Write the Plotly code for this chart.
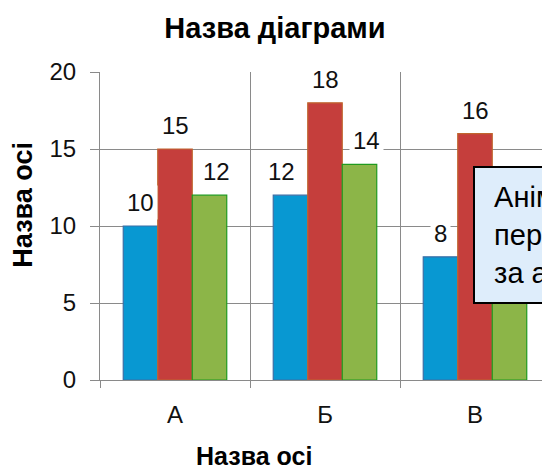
import plotly.graph_objects as go

categories = ["А", "Б", "В"]
series1 = [10, 12, 8]
series2 = [15, 18, 16]
series3 = [12, 14, 11]
y_ticks = [0, 5, 10, 15, 20]

FONT = "Liberation Sans, Arial, sans-serif"
fills = ["#0898d2", "#c53e3c", "#8cb548"]
edges = ["#3b6ea5", "#c0652e", "#1f9a1f"]
# horizontal pixel offsets of each data label from its category centre
label_dx = [[-34.5, -44, -34.5], [0, 0, 0], [41.5, 41.5, 41.5]]

fig = go.Figure()
for vals, fc, ec in zip([series1, series2, series3], fills, edges):
    fig.add_trace(go.Bar(x=categories, y=vals, marker=dict(color=fc, line=dict(color=ec, width=1.2)),
                         showlegend=False, hoverinfo="skip"))

annotations = []
for vals, dxs in zip([series1, series2, series3], label_dx):
    for c, v, dx in zip(categories, vals, dxs):
        annotations.append(dict(x=c, y=v, xref="x", yref="y", text=str(v), showarrow=False,
                                xshift=dx, yanchor="bottom", yshift=6, bgcolor="white", borderpad=3,
                                font=dict(family=FONT, size=24, color="#111111")))

# axis titles
annotations.append(dict(x=0.342, y=-0.2468, xref="paper", yref="paper", text="<b>Назва осі</b>",
                        showarrow=False, xanchor="center", yanchor="middle",
                        font=dict(family=FONT, size=25, color="black")))
annotations.append(dict(x=-0.172, y=0.568, xref="paper", yref="paper", text="<b>Назва осі</b>",
                        showarrow=False, xanchor="center", yanchor="middle", textangle=-90,
                        font=dict(family=FONT, size=27, color="black")))
# text box (drawn last, covers what lies under it)
annotations.append(dict(x=0.829, y=0.695, xref="paper", yref="paper",
                        text="&nbsp;&nbsp;Анімація<br>&nbsp;&nbsp;переходу<br>&nbsp;&nbsp;за абзацами",
                        showarrow=False, xanchor="left", yanchor="top", align="left",
                        width=240, height=128, borderpad=3, borderwidth=2,
                        bordercolor="black", bgcolor="#deedfb",
                        font=dict(family=FONT, size=29, color="black")))

fig.update_layout(
    width=542, height=459,
    margin=dict(l=92, r=0, t=64, b=87),
    paper_bgcolor="white", plot_bgcolor="white",
    bargap=0.31, bargroupgap=0, barmode="group",
    title=dict(text="<b>Назва діаграми</b>", x=0.4926, xref="container", y=1 - 20 / 459,
               yref="container", xanchor="center", yanchor="middle",
               font=dict(family=FONT, size=29, color="black")),
    font=dict(family=FONT, size=24, color="#111111"),
    annotations=annotations,
)
fig.update_xaxes(type="category", tickson="boundaries", showgrid=True, gridcolor="#8a8a8a", gridwidth=1,
                 showline=True, linecolor="#8a8a8a", linewidth=1, ticks="outside", ticklen=7,
                 tickcolor="#8a8a8a", ticklabelstandoff=13, range=[-0.5, 2.5],
                 tickfont=dict(family=FONT, size=24, color="#111111"))
fig.update_yaxes(range=[0, 20], tickvals=y_ticks, showgrid=True, gridcolor="#8a8a8a", gridwidth=1,
                 showline=True, linecolor="#8a8a8a", linewidth=1, ticks="outside", ticklen=9,
                 tickcolor="#8a8a8a", ticklabelstandoff=9, zeroline=False,
                 tickfont=dict(family=FONT, size=24, color="#111111"))

fig.write_html("out.html")
